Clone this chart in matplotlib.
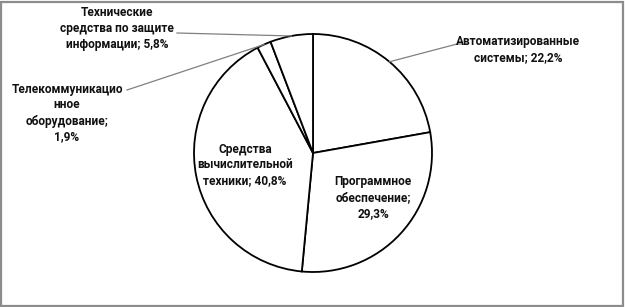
import numpy as np
import matplotlib.pyplot as plt
from matplotlib.patches import Rectangle

W, H = 625, 307

names = ["Автоматизированные\nсистемы", "Программное\nобеспечение",
         "Средства\nвычислительной\nтехники", "Телекоммуникацио\nнное\nоборудование",
         "Технические\nсредства по защите\nинформации"]
seps = [" ", "\n", " ", "\n", " "]
shares = [22.2, 29.3, 40.8, 1.9, 5.8]

# layout (image pixel coords, y down)
center = (313, 153)
radius = 119
text_pos = [(518, 50), (373, 198), (245, 165), (67, 113), (117, 28.5)]
leader_end = [[(457, 44), (462, 44)], None, None, [(127, 90)], [(177, 33)]]

plt.rcParams['font.family'] = ['Roboto', 'DejaVu Sans']

fig = plt.figure(figsize=(W / 100, H / 100), dpi=100)
ax = fig.add_axes([0, 0, 1, 1])
ax.axis('off')

wedges, _ = ax.pie(shares, startangle=90, counterclock=False,
                   center=(center[0], H - center[1]), radius=radius,
                   wedgeprops=dict(facecolor='white', edgecolor='black', linewidth=1.3))
ax.set_aspect('equal')
ax.set_xlim(0, W)
ax.set_ylim(0, H)

for i, w in enumerate(wedges):
    txt = names[i] + ";" + seps[i] + f"{shares[i]:.1f}".replace(".", ",") + "%"
    x, y = text_pos[i]
    ax.text(x, H - y, txt, ha='center', va='center', fontsize=8.6,
            fontweight='bold', linespacing=1.3, color='#111111')
    if leader_end[i]:
        ang = np.deg2rad((w.theta1 + w.theta2) / 2)
        px = center[0] + radius * np.cos(ang)
        py = H - center[1] + radius * np.sin(ang)
        xs = [px] + [p[0] for p in leader_end[i]]
        ys = [py] + [H - p[1] for p in leader_end[i]]
        ax.plot(xs, ys, color='#808080', lw=0.9)

fig.add_artist(Rectangle((1 / W, 1.5 / H), 621.5 / W, 304 / H, transform=fig.transFigure,
                         fill=False, edgecolor='#8c8c8c', linewidth=1.6))

fig.savefig('out.png', dpi=100)
